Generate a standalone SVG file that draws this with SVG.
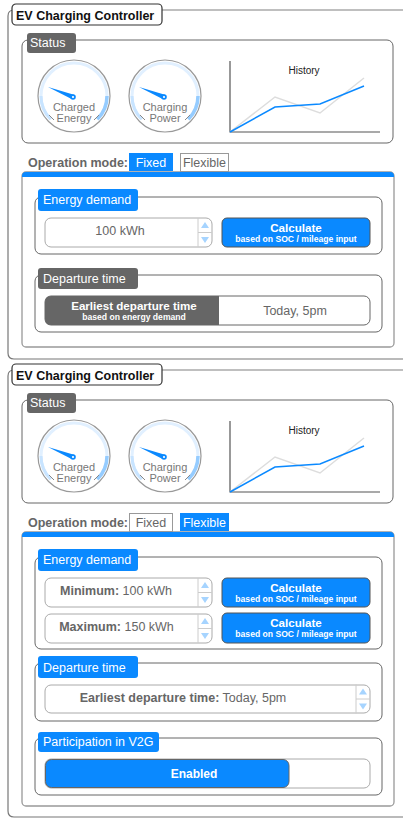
<svg xmlns="http://www.w3.org/2000/svg" width="403" height="819" viewBox="0 0 403 819">
<style>
text{font-family:"Liberation Sans",Arial,sans-serif}
.frame{fill:none;stroke:#777;stroke-width:1.2}
.ftop{stroke:#aaa;stroke-width:1.5}
.title{fill:#fff;stroke:#333;stroke-width:1.2}
.tt{font-size:12.5px;font-weight:bold;fill:#111}
.box{fill:none;stroke:#666;stroke-width:1}
.lblg{fill:#666}
.lblb{fill:#0a89ff}
.lt{font-size:12.5px;fill:#fff}
.inp{fill:#fff;stroke:#aaa;stroke-width:1}
.btn{fill:#0a89ff;stroke:#555;stroke-width:1}
.bt1{font-size:11.6px;font-weight:bold;fill:#fff;text-anchor:middle}
.bt2{font-size:8.6px;font-weight:bold;fill:#fff;text-anchor:middle}
.val{font-size:12.5px;fill:#666}
.gt{font-size:11px;fill:#777;text-anchor:middle}
.om{font-size:12.5px;font-weight:bold;fill:#666}
.tabOn{fill:#0a89ff}
.tabOff{fill:#fff;stroke:#999;stroke-width:1}
.tabTOn{font-size:12.5px;fill:#fff;text-anchor:middle}
.tabTOff{font-size:12.5px;fill:#666;text-anchor:middle}
.panel{fill:#fff;stroke:#999;stroke-width:1.3}
.spin{stroke:#ccc;stroke-width:1;fill:none}
.arr{fill:#a6d4ff}
</style>
<defs>
<g id="gauge">
<circle r="36" fill="#fff" stroke="#999" stroke-width="1.2"/>
<path d="M-23.3,23.3 A33,33 0 1 1 23.3,23.3" fill="none" stroke="#e1f0ff" stroke-width="3"/>
<path d="M-23.3,23.3 A33,33 0 0 1 -33,0" fill="none" stroke="#c8e4ff" stroke-width="3"/>
<path d="M33,0 A33,33 0 0 1 23.3,23.3" fill="none" stroke="#95ccff" stroke-width="3.5"/>
<line x1="-25" y1="19" x2="-20" y2="24" stroke="#888" stroke-width="1"/>
<line x1="25" y1="19" x2="20" y2="24" stroke="#888" stroke-width="1"/>
<polygon points="-26,-9 -0.1,-1.3 -1.9,3.3" fill="#0a89ff"/>
<circle cx="-1" cy="1" r="2.8" fill="#0a89ff"/>
<circle cx="-1" cy="1" r="1.1" fill="#fff"/>
</g>
<g id="spinner">
<line x1="0" y1="0" x2="0" y2="29" class="spin"/>
<line x1="0" y1="14.5" x2="14" y2="14.5" class="spin"/>
<polygon points="7,4 11,10 3,10" class="arr"/>
<polygon points="7,25 11,19 3,19" class="arr"/>
</g>
</defs>

<!-- ===== Panel 1 ===== -->
<g id="frame1">
<path d="M403,359 H14 Q8,359 8,353 V16 Q8,10 14,10" class="frame"/>
<line x1="14" y1="10" x2="403" y2="10" class="ftop"/>
</g>
<g id="title1">
<rect x="12" y="4" width="150" height="21" rx="4" class="title"/>
<text x="16" y="20" class="tt">EV Charging Controller</text>
</g>

<g id="status1">
<rect x="22" y="40" width="371" height="103" rx="6" class="box"/>
<rect x="27" y="33" width="49" height="20" rx="3" class="lblg"/>
<text x="30" y="47" class="lt">Status</text>
</g>
<g id="gaugeEnergy1">
<use href="#gauge" transform="translate(74,96)"/>
<text x="74" y="111" class="gt">Charged</text>
<text x="74" y="122" class="gt">Energy</text>
</g>
<g id="gaugePower1">
<use href="#gauge" transform="translate(165,96)"/>
<text x="165" y="111" class="gt">Charging</text>
<text x="165" y="122" class="gt">Power</text>
</g>
<g id="history1">
<polyline points="230,61 230,132 380,132" fill="none" stroke="#555" stroke-width="1.2"/>
<text x="304" y="74" font-size="10" fill="#222" text-anchor="middle">History</text>
<polyline points="230,132 275,97 320,113 364,78" fill="none" stroke="#ddd" stroke-width="1.5"/>
<polyline points="230,132 275,107 320,104 364,86" fill="none" stroke="#0a89ff" stroke-width="1.5"/>
</g>

<g id="opmode1">
<text x="28" y="167" class="om">Operation mode:</text>
<rect x="129" y="153" width="44" height="18" class="tabOn"/>
<text x="151" y="167" class="tabTOn">Fixed</text>
<rect x="180.5" y="153.5" width="48" height="18" class="tabOff"/>
<text x="204.5" y="167" class="tabTOff">Flexible</text>
</g>

<g id="tabpanel1">
<rect x="22" y="172" width="372" height="175" rx="4" class="panel"/>
<path d="M22,177 V176 Q22,172 26,172 H390 Q394,172 394,176 V177 Z" fill="#0a89ff"/>
</g>

<g id="energy1">
<rect x="35" y="197" width="347" height="57" rx="6" class="box"/>
<rect x="38" y="189" width="100" height="22" rx="3" class="lblb"/>
<text x="43" y="204" class="lt">Energy demand</text>
<rect x="45" y="218" width="167" height="29" rx="6" class="inp"/>
<use href="#spinner" transform="translate(198,218)"/>
<text x="120" y="235" class="val" text-anchor="middle">100 kWh</text>
<rect x="222" y="218" width="148" height="29" rx="5" class="btn"/>
<text x="296" y="232" class="bt1">Calculate</text>
<text x="296" y="242" class="bt2">based on SOC / mileage input</text>
</g>

<g id="departure1">
<rect x="35" y="275" width="347" height="57" rx="6" class="box"/>
<rect x="38" y="268" width="100" height="21" rx="3" class="lblg"/>
<text x="43" y="283" class="lt">Departure time</text>
<rect x="45" y="296" width="325" height="29" rx="6" fill="#fff" stroke="#666"/>
<path d="M219,296 V325 H51 Q45,325 45,319 V302 Q45,296 51,296 Z" fill="#666"/>
<text x="134" y="310" class="bt1">Earliest departure time</text>
<text x="134" y="319.5" class="bt2">based on energy demand</text>
<text x="295" y="315" class="val" text-anchor="middle">Today, 5pm</text>
</g>

<!-- ===== Panel 2 ===== -->
<g id="frame2">
<path d="M403,817 H14 Q8,817 8,811 V376 Q8,370 14,370" class="frame"/>
<line x1="14" y1="370" x2="403" y2="370" class="ftop"/>
</g>
<g id="title2">
<rect x="12" y="364" width="150" height="21" rx="4" class="title"/>
<text x="16" y="380" class="tt">EV Charging Controller</text>
</g>

<g id="status2">
<rect x="22" y="400" width="371" height="103" rx="6" class="box"/>
<rect x="27" y="393" width="49" height="20" rx="3" class="lblg"/>
<text x="30" y="407" class="lt">Status</text>
</g>
<g id="gaugeEnergy2">
<use href="#gauge" transform="translate(74,456)"/>
<text x="74" y="471" class="gt">Charged</text>
<text x="74" y="482" class="gt">Energy</text>
</g>
<g id="gaugePower2">
<use href="#gauge" transform="translate(165,456)"/>
<text x="165" y="471" class="gt">Charging</text>
<text x="165" y="482" class="gt">Power</text>
</g>
<g id="history2">
<polyline points="230,421 230,492 380,492" fill="none" stroke="#555" stroke-width="1.2"/>
<text x="304" y="434" font-size="10" fill="#222" text-anchor="middle">History</text>
<polyline points="230,492 275,457 320,473 364,438" fill="none" stroke="#ddd" stroke-width="1.5"/>
<polyline points="230,492 275,467 320,464 364,446" fill="none" stroke="#0a89ff" stroke-width="1.5"/>
</g>

<g id="opmode2">
<text x="28" y="527" class="om">Operation mode:</text>
<rect x="129.5" y="513.5" width="43" height="18" class="tabOff"/>
<text x="151" y="527" class="tabTOff">Fixed</text>
<rect x="180" y="513" width="49" height="18" class="tabOn"/>
<text x="204.5" y="527" class="tabTOn">Flexible</text>
</g>

<g id="tabpanel2">
<rect x="22" y="532" width="372" height="274" rx="4" class="panel"/>
<path d="M22,537 V536 Q22,532 26,532 H390 Q394,532 394,536 V537 Z" fill="#0a89ff"/>
</g>

<g id="energy2">
<rect x="35" y="557" width="347" height="92" rx="6" class="box"/>
<rect x="38" y="549" width="100" height="22" rx="3" class="lblb"/>
<text x="43" y="564" class="lt">Energy demand</text>
<rect x="45" y="578" width="167" height="29" rx="6" class="inp"/>
<use href="#spinner" transform="translate(198,578)"/>
<text x="116" y="595" class="val" text-anchor="middle"><tspan font-weight="bold">Minimum:</tspan> 100 kWh</text>
<rect x="222" y="578" width="148" height="29" rx="5" class="btn"/>
<text x="296" y="592" class="bt1">Calculate</text>
<text x="296" y="602" class="bt2">based on SOC / mileage input</text>
<rect x="45" y="614" width="167" height="29" rx="6" class="inp"/>
<use href="#spinner" transform="translate(198,614)"/>
<text x="116.5" y="631" class="val" text-anchor="middle"><tspan font-weight="bold">Maximum:</tspan> 150 kWh</text>
<rect x="222" y="613" width="148" height="30" rx="5" class="btn"/>
<text x="296" y="627" class="bt1">Calculate</text>
<text x="296" y="637" class="bt2">based on SOC / mileage input</text>
</g>

<g id="departure2">
<rect x="35" y="663" width="347" height="58" rx="6" class="box"/>
<rect x="38" y="656" width="100" height="22" rx="3" class="lblb"/>
<text x="43" y="672" class="lt">Departure time</text>
<rect x="45" y="685" width="325" height="28" rx="6" class="inp"/>
<use href="#spinner" transform="translate(356,684.5)"/>
<text x="183" y="702" class="val" text-anchor="middle"><tspan font-weight="bold">Earliest departure time:</tspan> Today, 5pm</text>
</g>

<g id="v2g2">
<rect x="35" y="738" width="347" height="57" rx="6" class="box"/>
<rect x="38" y="732" width="121" height="20" rx="3" class="lblb"/>
<text x="43" y="746" class="lt">Participation in V2G</text>
<rect x="45" y="759" width="325" height="29" rx="6" class="inp"/>
<rect x="45.5" y="759.5" width="243.5" height="28" rx="6" fill="#0a89ff" stroke="#666" stroke-width="1"/>
<text x="194" y="778" font-size="12px" font-weight="bold" fill="#fff" text-anchor="middle">Enabled</text>
</g>
</svg>
